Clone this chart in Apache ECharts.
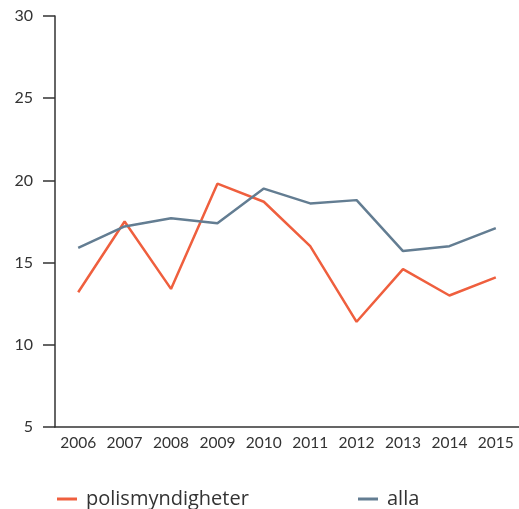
<!DOCTYPE html>
<html>
<head>
<meta charset="utf-8">
<script src="https://cdn.jsdelivr.net/npm/echarts@6/dist/echarts.min.js"></script>
<style>
  html, body { margin: 0; padding: 0; background: #fff; }
  #chart { width: 519px; height: 509px; }
</style>
</head>
<body>
<div id="chart"></div>
<script>
const years = ["2006", "2007", "2008", "2009", "2010", "2011", "2012", "2013", "2014", "2015"];
const polismyndigheter = [13.2, 17.5, 13.4, 19.8, 18.7, 16.0, 11.4, 14.6, 13.0, 14.1];
const alla = [15.9, 17.2, 17.7, 17.4, 19.5, 18.6, 18.8, 15.7, 16.0, 17.1];
const yTicks = [5, 10, 15, 20, 25, 30];

const font = "Lato, 'Open Sans', sans-serif";
const legendFont = "'Open Sans', Lato, sans-serif";
const axisColor = "#333";

const chart = echarts.init(document.getElementById("chart"), null, { renderer: "canvas" });

const legendItem = (name, left) => ({
  left,
  top: 484,
  itemWidth: 20,
  itemHeight: 3,
  itemGap: 11,
  icon: "rect",
  textStyle: { fontSize: 20, color: "#333", fontFamily: legendFont, padding: [0, 0, 0, 4] },
  data: [name],
});

chart.setOption({
  animation: false,
  textStyle: { fontFamily: font },
  grid: { left: 55, right: 0, top: 16, bottom: 82, containLabel: false },
  legend: [legendItem("polismyndigheter", 52), legendItem("alla", 353)],
  xAxis: {
    type: "category",
    data: years,
    boundaryGap: true,
    axisLine: { lineStyle: { color: axisColor, width: 1.5 } },
    axisTick: { inside: true, length: 10, interval: 0, lineStyle: { color: axisColor, width: 1.5 } },
    axisLabel: { color: "#333", fontSize: 15.5, margin: 8, interval: 0, fontFamily: font },
    splitLine: { show: false },
  },
  yAxis: {
    type: "value",
    min: yTicks[0],
    max: yTicks[yTicks.length - 1],
    interval: 5,
    axisLine: { show: true, lineStyle: { color: axisColor, width: 1.5 } },
    axisTick: { show: true, length: 12, lineStyle: { color: axisColor, width: 1.5 } },
    axisLabel: { color: "#333", fontSize: 16, margin: 22, fontFamily: font },
    splitLine: { show: false },
  },
  series: [
    {
      name: "polismyndigheter",
      type: "line",
      data: polismyndigheter,
      symbol: "none",
      color: "#EF5F3E",
      lineStyle: { width: 2.5, color: "#EF5F3E" },
    },
    {
      name: "alla",
      type: "line",
      data: alla,
      symbol: "none",
      color: "#637D92",
      lineStyle: { width: 2.5, color: "#637D92" },
    },
  ],
});
</script>
</body>
</html>
